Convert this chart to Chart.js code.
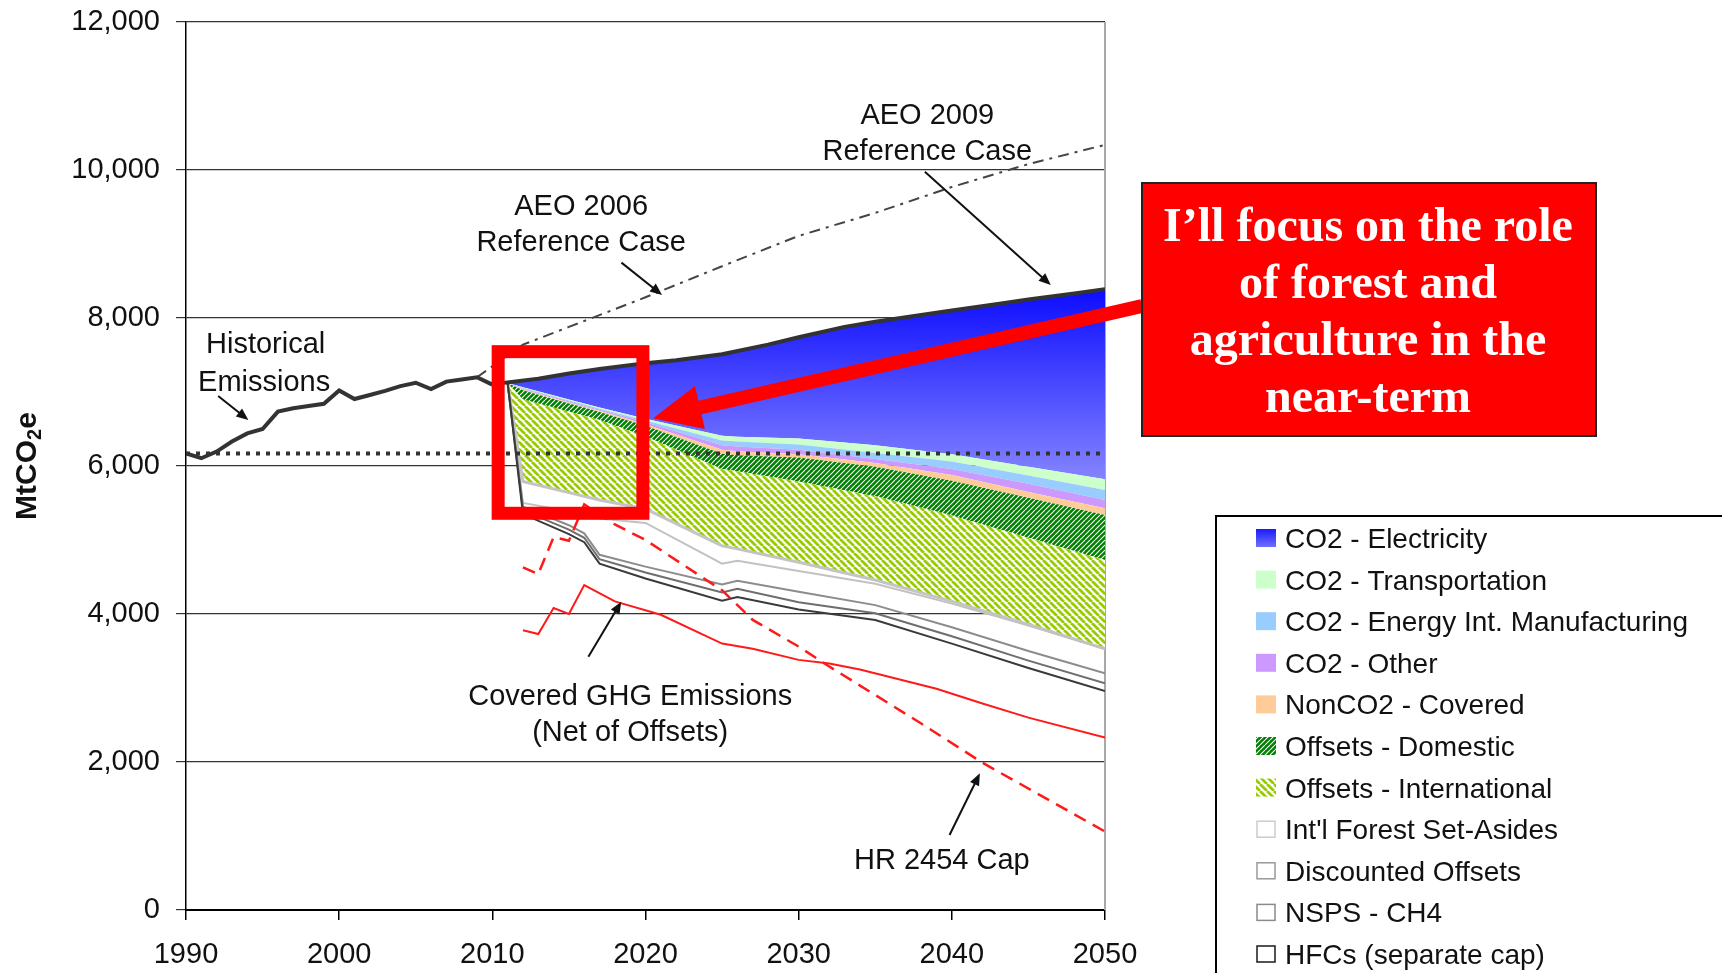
<!DOCTYPE html>
<html>
<head>
<meta charset="utf-8">
<script src="https://cdn.jsdelivr.net/npm/chart.js@4.4.0/dist/chart.umd.min.js"></script>
<style>
  html, body { margin: 0; padding: 0; background: #fff; }
</style>
</head>
<body>
<canvas id="chart" width="1722" height="973"></canvas>
<script>
// ---- values ----
const xTicks = [1990, 2000, 2010, 2020, 2030, 2040, 2050];
const yTicks = [0, 2000, 4000, 6000, 8000, 10000, 12000];

const histYears = [1990, 1991, 1992, 1993, 1994, 1995, 1996, 1997, 1998, 1999, 2000,
                   2001, 2002, 2003, 2004, 2005, 2006, 2007, 2008, 2009, 2010];
const histValues = [6170, 6105, 6195, 6330, 6440, 6500, 6735, 6780, 6810, 6840, 7020,
                    6905, 6960, 7015, 7080, 7125, 7040, 7140, 7170, 7200, 7100];

const aeo2009Years = [2010, 2011, 2013, 2015, 2017, 2020, 2022, 2025, 2028, 2030, 2033, 2035, 2038, 2040, 2043, 2045, 2048, 2050];
const aeo2009Values = [7100, 7130, 7180, 7250, 7310, 7390, 7430, 7510, 7640, 7740, 7880, 7950, 8040, 8100, 8190, 8250, 8330, 8390];

const aeo2006Years = [2009, 2012, 2015, 2020, 2025, 2030, 2035, 2040, 2045, 2050];
const aeo2006Values = [7200, 7640, 7880, 8280, 8700, 9110, 9420, 9770, 10080, 10340];

const levelYears = [1990, 2050];
const levelValues = [6170, 6170];

// top edge of each band of the stack (cumulative, MtCO2e)
const stackYears = [2011, 2012, 2015, 2016, 2017, 2020, 2025, 2026, 2030, 2035, 2040, 2045, 2050];
const electricityTop = [7130, 7155, 7250, 7280, 7310, 7390, 7510, 7550, 7740, 7950, 8100, 8250, 8390];
const transportTop   = [7120, 7065, 6900, 6845, 6790, 6640, 6410, 6395, 6370, 6280, 6160, 5990, 5820];
const eimTop         = [7120, 7055, 6885, 6830, 6775, 6615, 6345, 6330, 6290, 6175, 6060, 5870, 5675];
const otherTop       = [7120, 7045, 6870, 6815, 6760, 6590, 6280, 6265, 6220, 6095, 5960, 5760, 5540];
const nonCo2Top      = [7120, 7035, 6858, 6800, 6745, 6565, 6220, 6200, 6160, 6040, 5880, 5650, 5430];
const domesticTop    = [7120, 7025, 6845, 6790, 6730, 6545, 6165, 6145, 6115, 5990, 5800, 5570, 5337];
const intlTop        = [7120, 6900, 6735, 6680, 6620, 6400, 5960, 5930, 5790, 5590, 5330, 5030, 4730];
const setAsideTop    = [7120, 5790, 5640, 5590, 5540, 5420, 4920, 4880, 4700, 4460, 4170, 3860, 3530];
const discountedTop  = [7120, 5500, 5390, 5340, 5290, 5230, 4680, 4720, 4580, 4410, 4140, 3845, 3525];
const nspsTop        = [7120, 5450, 5200, 5090, 4800, 4640, 4400, 4450, 4300, 4120, 3820, 3500, 3200];
const hfcTop         = [7120, 5400, 5140, 5030, 4740, 4560, 4290, 4340, 4160, 4010, 3700, 3370, 3065];
const hfcBottom      = [7120, 5350, 5080, 4970, 4680, 4480, 4180, 4230, 4060, 3920, 3600, 3270, 2960];

const coveredYears = [2012, 2013, 2014, 2015, 2016, 2018, 2021, 2025, 2027, 2030, 2032, 2034, 2039, 2042, 2045, 2050];
const coveredValues = [3780, 3730, 4080, 4000, 4390, 4170, 3990, 3600, 3530, 3380, 3330, 3250, 2990, 2790, 2600, 2330];

const capYears = [2012, 2013, 2014, 2015, 2016, 2018, 2020, 2025, 2027, 2030, 2032, 2038, 2042, 2050];
const capValues = [4630, 4540, 5040, 4990, 5480, 5210, 5000, 4320, 3920, 3560, 3290, 2520, 1990, 1060];

const SANS = '"Liberation Sans", Arial, sans-serif';

const canvas = document.getElementById('chart');
const ctx = canvas.getContext('2d');

function pts(xs, ys) {
    return xs.map((x, i) => ({x: x, y: ys[i]}));
}

function stripes(size, bg, fg, lw, dir) {
    const c = document.createElement('canvas');
    c.width = c.height = size;
    const g = c.getContext('2d');
    g.fillStyle = bg;
    g.fillRect(0, 0, size, size);
    g.strokeStyle = fg;
    g.lineWidth = lw;
    g.beginPath();
    for (const k of [-size, 0, size]) {
        if (dir === 'down') { g.moveTo(k, 0); g.lineTo(k + size, size); }
        else { g.moveTo(k, size); g.lineTo(k + size, 0); }
    }
    g.stroke();
    return ctx.createPattern(c, 'repeat');
}

const intlPattern = stripes(7, '#ffffff', '#99cc00', 2.8, 'down');
const domesticPattern = stripes(5, '#008000', '#ffffff', 1.1, 'up');

function electricityFill(context) {
    const chart = context.chart;
    if (!chart.chartArea) return '#5050ff';
    const y = chart.scales.y;
    const g = chart.ctx.createLinearGradient(0, y.getPixelForValue(8400), 0, y.getPixelForValue(5800));
    g.addColorStop(0, '#0c0cff');
    g.addColorStop(1, '#8585ff');
    return g;
}

function edge(label, ys, color, width, swatchBorder) {
    return {
        label: label, data: pts(stackYears, ys), borderColor: color, borderWidth: width,
        fill: false, order: 4, legend: !!swatchBorder, swatchFill: '#ffffff', swatchBorder: swatchBorder
    };
}

function band(label, ys, bg) {
    return {
        label: label, data: pts(stackYears, ys), borderWidth: 0, borderColor: 'rgba(0,0,0,0)',
        backgroundColor: bg, fill: '-1', order: 5, legend: true, swatchFill: bg
    };
}

function line(xs, ys, color, width, dash, order) {
    return {
        label: '', data: pts(xs, ys), borderColor: color, borderWidth: width,
        borderDash: dash || [], fill: false, order: order
    };
}

const datasets = [
    edge('', hfcBottom, '#3a3a3a', 2),
    edge('HFCs (separate cap)', hfcTop, '#6e6e6e', 2, '#1a1a1a'),
    edge('NSPS - CH4', nspsTop, '#8c8c8c', 2, '#8a8a8a'),
    edge('Discounted Offsets', discountedTop, '#c2c2c2', 2, '#999999'),
    edge("Int'l Forest Set-Asides", setAsideTop, '#c4c4c4', 3, '#cccccc'),
    band('Offsets - International', intlTop, intlPattern),
    band('Offsets - Domestic', domesticTop, domesticPattern),
    band('NonCO2 - Covered', nonCo2Top, '#ffcc99'),
    band('CO2 - Other', otherTop, '#cc99ff'),
    band('CO2 - Energy Int. Manufacturing', eimTop, '#99ccff'),
    band('CO2 - Transportation', transportTop, '#ccffcc'),
    band('CO2 - Electricity', electricityTop, electricityFill),
    line(aeo2009Years, aeo2009Values, '#333333', 4, null, 2),
    line(histYears, histValues, '#333333', 4, null, 2),
    line(aeo2006Years, aeo2006Values, '#444444', 2, [11, 6, 3, 6], 3),
    line(levelYears, levelValues, '#333333', 4, [4, 6], 1),
    line(coveredYears, coveredValues, '#ff1a1a', 2, null, 0),
    line(capYears, capValues, '#ff1a1a', 2.5, [13, 8], 0)
];

function arrow(g, x1, y1, x2, y2) {
    const a = Math.atan2(y2 - y1, x2 - x1);
    g.beginPath();
    g.moveTo(x1, y1);
    g.lineTo(x2 - 8 * Math.cos(a), y2 - 8 * Math.sin(a));
    g.stroke();
    g.beginPath();
    g.moveTo(x2, y2);
    g.lineTo(x2 - 12 * Math.cos(a) + 5 * Math.sin(a), y2 - 12 * Math.sin(a) - 5 * Math.cos(a));
    g.lineTo(x2 - 12 * Math.cos(a) - 5 * Math.sin(a), y2 - 12 * Math.sin(a) + 5 * Math.cos(a));
    g.closePath();
    g.fill();
}

const decor = {
    id: 'decor',
    beforeDatasetsDraw(chart) {
        const g = chart.ctx, a = chart.chartArea;
        g.save();
        g.strokeStyle = '#a8a8a8';
        g.lineWidth = 2;
        g.beginPath();
        g.moveTo(a.right, a.top);
        g.lineTo(a.right, a.bottom);
        g.stroke();
        g.restore();
    },
    afterDraw(chart) {
        const g = chart.ctx;
        const X = v => chart.scales.x.getPixelForValue(v);
        const Y = v => chart.scales.y.getPixelForValue(v);
        g.save();

        //Annotations
        g.fillStyle = '#111';
        g.font = '29px ' + SANS;
        g.textAlign = 'center';
        g.textBaseline = 'alphabetic';
        const notes = [
            ['Historical', 1995.2, 7527], ['Emissions', 1995.1, 7014],
            ['AEO 2006', 2015.8, 9392], ['Reference Case', 2015.8, 8899],
            ['AEO 2009', 2038.4, 10615], ['Reference Case', 2038.4, 10129],
            ['Covered GHG Emissions', 2019.0, 2770], ['(Net of Offsets)', 2019.0, 2284],
            ['HR 2454 Cap', 2039.35, 559]
        ];
        notes.forEach(n => g.fillText(n[0], X(n[1]), Y(n[2])));

        g.strokeStyle = '#111';
        g.lineWidth = 2;
        [[1992.1, 6946, 1994.07, 6622],
         [2018.43, 8748, 2021.08, 8311],
         [2038.24, 9977, 2046.46, 8446],
         [2016.27, 3423, 2018.42, 4166],
         [2039.85, 1014, 2041.83, 1847]].forEach(r => arrow(g, X(r[0]), Y(r[1]), X(r[2]), Y(r[3])));

        //Highlight box
        g.strokeStyle = '#ff0000';
        g.lineWidth = 13;
        g.strokeRect(X(2010.38), Y(7545), X(2019.83) - X(2010.38), Y(5361) - Y(7545));

        //Callout arrow
        const tx = 1142, ty = 306, px = X(2020.5), py = Y(6645);
        const len = Math.hypot(px - tx, py - ty);
        const ux = (px - tx) / len, uy = (py - ty) / len, nx = -uy, ny = ux;
        const bx = px - ux * 48, by = py - uy * 48;
        g.fillStyle = '#ff0000';
        g.beginPath();
        g.moveTo(tx + nx * 7, ty + ny * 7);
        g.lineTo(bx + nx * 7, by + ny * 7);
        g.lineTo(bx + nx * 22, by + ny * 22);
        g.lineTo(px, py);
        g.lineTo(bx - nx * 22, by - ny * 22);
        g.lineTo(bx - nx * 7, by - ny * 7);
        g.lineTo(tx - nx * 7, ty - ny * 7);
        g.closePath();
        g.fill();

        //Callout box
        g.fillRect(1142, 183, 454, 253);
        g.strokeStyle = '#222';
        g.lineWidth = 2;
        g.strokeRect(1142, 183, 454, 253);
        g.fillStyle = '#fff';
        g.font = 'bold 48px "Liberation Serif", "Times New Roman", serif';
        ['I\u2019ll focus on the role', 'of forest and', 'agriculture in the', 'near-term']
            .forEach((t, i) => g.fillText(t, 1368, 241 + i * 57));

        //Legend
        g.strokeStyle = '#000';
        g.lineWidth = 2;
        g.strokeRect(1216, 516, 700, 600);
        g.font = '28px ' + SANS;
        g.textAlign = 'left';
        const items = chart.data.datasets.filter(d => d.legend).reverse();
        items.forEach((d, i) => {
            const yc = 538 + i * 41.6;
            if (d.swatchFill === electricityFill) {
                const gr = g.createLinearGradient(0, yc - 9, 0, yc + 9);
                gr.addColorStop(0, '#1a1aff');
                gr.addColorStop(1, '#7070ff');
                g.fillStyle = gr;
            } else {
                g.fillStyle = d.swatchFill;
            }
            g.fillRect(1256, yc - 9, 20, 18);
            if (d.swatchBorder) {
                g.strokeStyle = d.swatchBorder;
                g.lineWidth = 1.5;
                g.strokeRect(1257, yc - 8, 18, 16);
            }
            g.fillStyle = '#111';
            g.fillText(d.label, 1285, yc + 10);
        });

        //Axis title with subscript
        g.translate(36, 466);
        g.rotate(-Math.PI / 2);
        g.fillStyle = '#111';
        const big = 'bold 30px ' + SANS, small = 'bold 20px ' + SANS;
        g.font = big;
        const w1 = g.measureText('MtCO').width, w3 = g.measureText('e').width;
        g.font = small;
        const w2 = g.measureText('2').width;
        let x0 = -(w1 + w2 + w3) / 2;
        g.font = big;
        g.fillText('MtCO', x0, 0);
        g.font = small;
        g.fillText('2', x0 + w1, 5);
        g.font = big;
        g.fillText('e', x0 + w1 + w2, 0);

        g.restore();
    }
};

new Chart(ctx, {
    type: 'line',
    data: { datasets: datasets },
    options: {
        responsive: false,
        animation: false,
        devicePixelRatio: 1,
        layout: { padding: { left: 0, right: 617, top: 22, bottom: 0 } },
        plugins: { legend: { display: false }, tooltip: { enabled: false } },
        elements: { point: { radius: 0 }, line: { tension: 0 } },
        scales: {
            x: {
                type: 'linear', min: 1990, max: 2050,
                afterBuildTicks: s => { s.ticks = xTicks.map(v => ({value: v})); },
                afterFit: s => { s.height = 63; },
                grid: { drawOnChartArea: false, drawTicks: true, tickLength: 10, color: '#000', lineWidth: 1.5 },
                border: { display: true, color: '#000', width: 2 },
                ticks: { padding: 18, color: '#111', font: { family: SANS, size: 29 },
                         maxRotation: 0, autoSkip: false, callback: v => String(v) }
            },
            y: {
                min: 0, max: 12000,
                afterBuildTicks: s => { s.ticks = yTicks.map(v => ({value: v})); },
                afterFit: s => { s.width = 186; s.paddingTop = 0; s.paddingBottom = 0; },
                grid: { color: '#333', lineWidth: 1.2, tickLength: 10 },
                border: { color: '#000', width: 1.5 },
                ticks: { padding: 16, color: '#111', font: { family: SANS, size: 29 },
                         callback: v => v.toLocaleString('en-US') }
            }
        }
    },
    plugins: [decor]
});
</script>
</body>
</html>
